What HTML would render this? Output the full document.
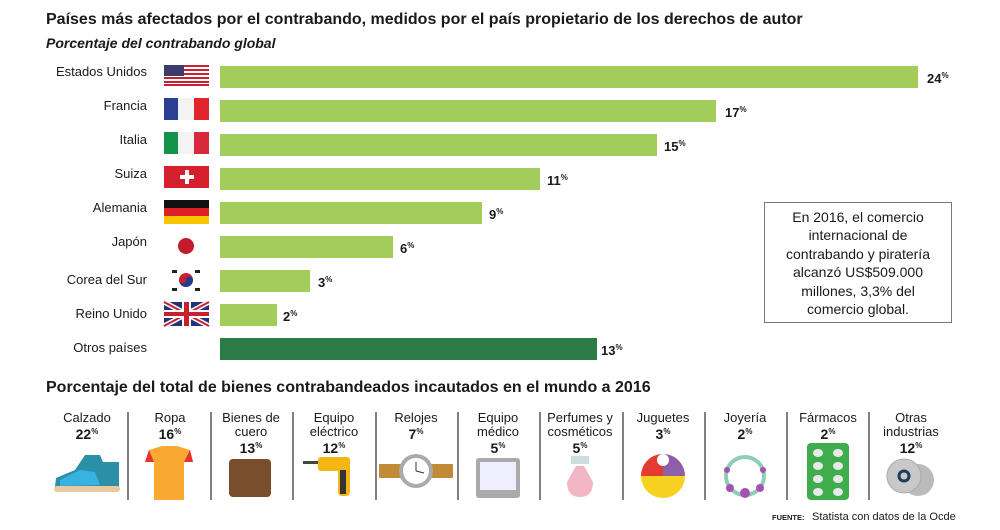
<!DOCTYPE html>
<html><head><meta charset="utf-8"><style>
body{margin:0;background:#fff}
svg{display:block}
text{font-family:"Liberation Sans",sans-serif;fill:#1a1a1a}
.lab{font-size:13px;text-anchor:end}
.val{font-size:13px;font-weight:bold}
.c{font-size:13px;text-anchor:middle}
.p{font-size:14px;font-weight:bold;text-anchor:middle}
.sup{font-size:8px}
</style></head><body>
<svg width="1000" height="530" viewBox="0 0 1000 530">
<text x="46" y="24" style="font-size:16px;font-weight:bold">Países más afectados por el contrabando, medidos por el país propietario de los derechos de autor</text>
<text x="46" y="48" style="font-size:14px;font-weight:bold;font-style:italic">Porcentaje del contrabando global</text>

<g>
<text class="lab" x="147" y="76">Estados Unidos</text>
<text class="lab" x="147" y="110">Francia</text>
<text class="lab" x="147" y="144">Italia</text>
<text class="lab" x="147" y="178">Suiza</text>
<text class="lab" x="147" y="212">Alemania</text>
<text class="lab" x="147" y="246">Japón</text>
<text class="lab" x="147" y="284">Corea del Sur</text>
<text class="lab" x="147" y="318">Reino Unido</text>
<text class="lab" x="147" y="352">Otros países</text>
</g>

<g>
<rect x="164" y="65" width="45" height="20" fill="#fff"/>
<g fill="#c8202f"><rect x="164" y="65" width="45" height="2"/><rect x="164" y="69" width="45" height="2"/><rect x="164" y="73" width="45" height="2"/><rect x="164" y="77" width="45" height="2"/><rect x="164" y="81" width="45" height="2"/><rect x="164" y="84" width="45" height="2"/></g>
<rect x="164" y="65" width="20" height="11" fill="#3c3b6e"/>
<rect x="164" y="98" width="14" height="22" fill="#2a3f93"/><rect x="178" y="98" width="16" height="22" fill="#f3f3f3"/><rect x="194" y="98" width="15" height="22" fill="#e0252d"/>
<rect x="164" y="132" width="14" height="22" fill="#16934a"/><rect x="178" y="132" width="16" height="22" fill="#f3f3f3"/><rect x="194" y="132" width="15" height="22" fill="#d8283a"/>
<rect x="164" y="166" width="45" height="22" fill="#d6202e"/><rect x="180" y="175" width="14" height="4" fill="#fff"/><rect x="185" y="170" width="4" height="14" fill="#fff"/>
<rect x="164" y="200" width="45" height="8" fill="#111"/><rect x="164" y="208" width="45" height="8" fill="#dd1f26"/><rect x="164" y="216" width="45" height="8" fill="#f6c700"/>
<circle cx="186" cy="246" r="8" fill="#c51a2b"/>
<circle cx="186" cy="280" r="7" fill="#c8202f"/><path d="M179 280 a7 7 0 0 0 14 0 a3.5 3.5 0 0 0 -7 0 a3.5 3.5 0 0 1 -7 0z" fill="#1f3c8f"/>
<g fill="#222"><rect x="172" y="270" width="5" height="3"/><rect x="195" y="270" width="5" height="3"/><rect x="172" y="288" width="5" height="3"/><rect x="195" y="288" width="5" height="3"/></g>
<rect x="164" y="302" width="45" height="24" fill="#27307a"/>
<path d="M164 302 L209 326 M209 302 L164 326" stroke="#fff" stroke-width="5"/>
<path d="M164 302 L209 326 M209 302 L164 326" stroke="#c8202f" stroke-width="2"/>
<rect x="164" y="310" width="45" height="8" fill="#fff"/><rect x="182" y="302" width="9" height="24" fill="#fff"/>
<rect x="164" y="312" width="45" height="4" fill="#c8202f"/><rect x="184" y="302" width="5" height="24" fill="#c8202f"/>
</g>

<g fill="#a2cd5b">
<rect x="220" y="66" width="698" height="22"/>
<rect x="220" y="100" width="496" height="22"/>
<rect x="220" y="134" width="437" height="22"/>
<rect x="220" y="168" width="320" height="22"/>
<rect x="220" y="202" width="262" height="22"/>
<rect x="220" y="236" width="173" height="22"/>
<rect x="220" y="270" width="90" height="22"/>
<rect x="220" y="304" width="57" height="22"/>
</g>
<rect x="220" y="338" width="377" height="22" fill="#2a7c44"/>
<g class="val">
<text class="val" x="927" y="83">24<tspan class="sup" dy="-5">%</tspan></text>
<text class="val" x="725" y="117">17<tspan class="sup" dy="-5">%</tspan></text>
<text class="val" x="664" y="151">15<tspan class="sup" dy="-5">%</tspan></text>
<text class="val" x="547" y="185">11<tspan class="sup" dy="-5">%</tspan></text>
<text class="val" x="489" y="219">9<tspan class="sup" dy="-5">%</tspan></text>
<text class="val" x="400" y="253">6<tspan class="sup" dy="-5">%</tspan></text>
<text class="val" x="318" y="287">3<tspan class="sup" dy="-5">%</tspan></text>
<text class="val" x="283" y="321">2<tspan class="sup" dy="-5">%</tspan></text>
<text class="val" x="601" y="355">13<tspan class="sup" dy="-5">%</tspan></text>
</g>

<rect x="764.5" y="202.5" width="187" height="120" fill="#fff" stroke="#777"/>
<g style="font-size:14px">
<text x="858" y="222" text-anchor="middle">En 2016, el comercio</text>
<text x="858" y="240" text-anchor="middle">internacional de</text>
<text x="858" y="259" text-anchor="middle">contrabando y piratería</text>
<text x="858" y="277" text-anchor="middle">alcanzó US$509.000</text>
<text x="858" y="296" text-anchor="middle">millones, 3,3% del</text>
<text x="858" y="314" text-anchor="middle">comercio global.</text>
</g>

<text x="46" y="392" style="font-size:16px;font-weight:bold">Porcentaje del total de bienes contrabandeados incautados en el mundo a 2016</text>

<g stroke="#555" stroke-width="1.5">
<line x1="128" y1="412" x2="128" y2="500"/><line x1="211" y1="412" x2="211" y2="500"/><line x1="293" y1="412" x2="293" y2="500"/><line x1="376" y1="412" x2="376" y2="500"/><line x1="458" y1="412" x2="458" y2="500"/><line x1="540" y1="412" x2="540" y2="500"/><line x1="623" y1="412" x2="623" y2="500"/><line x1="705" y1="412" x2="705" y2="500"/><line x1="787" y1="412" x2="787" y2="500"/><line x1="869" y1="412" x2="869" y2="500"/>
</g>
<g>
<text class="c" x="87" y="422">Calzado</text><text class="p" x="87" y="439">22<tspan class="sup" dy="-5">%</tspan></text>
<text class="c" x="170" y="422">Ropa</text><text class="p" x="170" y="439">16<tspan class="sup" dy="-5">%</tspan></text>
<text class="c" x="251" y="422">Bienes de</text><text class="c" x="251" y="436">cuero</text><text class="p" x="251" y="453">13<tspan class="sup" dy="-5">%</tspan></text>
<text class="c" x="334" y="422">Equipo</text><text class="c" x="334" y="436">eléctrico</text><text class="p" x="334" y="453">12<tspan class="sup" dy="-5">%</tspan></text>
<text class="c" x="416" y="422">Relojes</text><text class="p" x="416" y="439">7<tspan class="sup" dy="-5">%</tspan></text>
<text class="c" x="498" y="422">Equipo</text><text class="c" x="498" y="436">médico</text><text class="p" x="498" y="453">5<tspan class="sup" dy="-5">%</tspan></text>
<text class="c" x="580" y="422">Perfumes y</text><text class="c" x="580" y="436">cosméticos</text><text class="p" x="580" y="453">5<tspan class="sup" dy="-5">%</tspan></text>
<text class="c" x="663" y="422">Juguetes</text><text class="p" x="663" y="439">3<tspan class="sup" dy="-5">%</tspan></text>
<text class="c" x="745" y="422">Joyería</text><text class="p" x="745" y="439">2<tspan class="sup" dy="-5">%</tspan></text>
<text class="c" x="828" y="422">Fármacos</text><text class="p" x="828" y="439">2<tspan class="sup" dy="-5">%</tspan></text>
<text class="c" x="911" y="422">Otras</text><text class="c" x="911" y="436">industrias</text><text class="p" x="911" y="453">12<tspan class="sup" dy="-5">%</tspan></text>
</g>

<path d="M55 487 L56 478 L75 470 L85 455 L100 455 L103 462 L119 462 L119 488 Z" fill="#2b8fa8"/>
<rect x="54" y="486" width="66" height="6" rx="3" fill="#e9c9a0"/>
<path d="M60 480 L80 470 L95 472 L100 485 L60 486Z" fill="#36b2e3"/>
<path d="M149 450 L162 446 L177 446 L190 450 L193 462 L184 462 L184 500 L154 500 L154 462 L145 462Z" fill="#f7a932"/>
<path d="M149 450 L154 462 L145 462Z M190 450 L193 462 L184 462Z" fill="#e8322b"/>
<rect x="229" y="459" width="42" height="38" rx="4" fill="#7a4d2c"/>
<rect x="303" y="461" width="38" height="3" fill="#444"/><rect x="318" y="457" width="32" height="14" rx="3" fill="#f5b615"/><rect x="338" y="466" width="12" height="30" rx="4" fill="#f5b615"/><rect x="340" y="470" width="6" height="24" fill="#333"/>
<rect x="379" y="464" width="74" height="14" fill="#c08a37"/><circle cx="416" cy="471" r="17" fill="#aaa"/><circle cx="416" cy="471" r="13" fill="#fff"/><path d="M416 471 L416 462 M416 471 L424 473" stroke="#333" stroke-width="1"/>
<rect x="476" y="458" width="44" height="40" rx="3" fill="#aaa"/><rect x="480" y="462" width="36" height="28" fill="#eef"/>
<rect x="571" y="456" width="18" height="8" fill="#cdd"/><path d="M567 482 L576 466 L584 466 L593 482 Q593 497 580 497 Q567 497 567 482Z" fill="#f3b6c4"/>
<circle cx="663" cy="476" r="22" fill="#f7d11f"/><path d="M663 454 A22 22 0 0 1 685 476 L663 476Z" fill="#8d5fa9"/><path d="M641 476 A22 22 0 0 1 663 454 L663 476Z" fill="#e33a32"/><circle cx="663" cy="460" r="6" fill="#fff"/>
<circle cx="745" cy="476" r="19" fill="none" stroke="#8ccfb8" stroke-width="4"/><circle cx="745" cy="493" r="5" fill="#a551b0"/><circle cx="730" cy="488" r="4" fill="#a551b0"/><circle cx="760" cy="488" r="4" fill="#a551b0"/><circle cx="727" cy="470" r="3" fill="#a551b0"/><circle cx="763" cy="470" r="3" fill="#a551b0"/>
<rect x="807" y="443" width="42" height="57" rx="4" fill="#3fad4c"/>
<g fill="#e8e8e8"><ellipse cx="818" cy="453" rx="5" ry="4"/><ellipse cx="838" cy="453" rx="5" ry="4"/><ellipse cx="818" cy="466" rx="5" ry="4"/><ellipse cx="838" cy="466" rx="5" ry="4"/><ellipse cx="818" cy="479" rx="5" ry="4"/><ellipse cx="838" cy="479" rx="5" ry="4"/><ellipse cx="818" cy="492" rx="5" ry="4"/><ellipse cx="838" cy="492" rx="5" ry="4"/></g>
<circle cx="918" cy="480" r="16" fill="#bbb"/><circle cx="904" cy="476" r="17" fill="#c8c8c8" stroke="#aaa"/><circle cx="904" cy="476" r="5" fill="none" stroke="#1f3b5c" stroke-width="3"/>

<text x="772" y="520" style="font-size:7.5px;font-weight:bold">FUENTE:</text>
<text x="812" y="520" style="font-size:11px">Statista con datos de la Ocde</text>
</svg>
</body></html>
